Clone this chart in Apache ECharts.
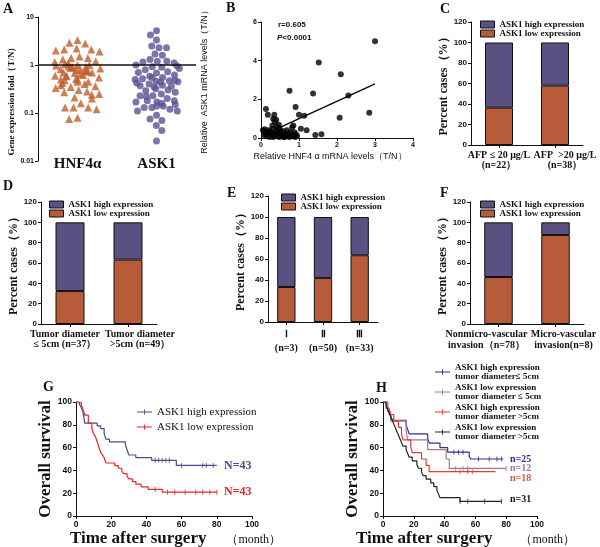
<!DOCTYPE html>
<html><head><meta charset="utf-8">
<script src="https://cdn.jsdelivr.net/npm/echarts@6/dist/echarts.min.js"></script>
<style>html,body{margin:0;padding:0;background:#fff}#c{width:600px;height:547px}</style>
</head><body><div id="c"></div>
<script>
// ---------- Data ----------
// Panel A: gene expression fold (T/N)
const aCategories = ['HNF4α', 'ASK1'];
const aHnf4 = [3.3,2.9,2.8,2.2,2.1,2.1,2.0,1.9,1.5,1.4,1.4,1.3,1.2,1.15,1.1,1.05,1.0,1.0,0.98,0.95,0.92,0.9,0.9,0.88,0.85,0.82,0.8,0.8,0.78,0.75,0.72,0.7,0.7,0.68,0.65,0.62,0.6,0.6,0.58,0.55,0.52,0.5,0.5,0.48,0.45,0.45,0.42,0.4,0.38,0.36,0.35,0.33,0.3,0.28,0.27,0.25,0.24,0.21,0.2,0.16,0.13,0.13,0.13,0.12,0.08,0.075];
const aAsk1 = [5.2,4.2,3.3,2.5,2.3,2.3,1.7,1.6,1.3,1.2,1.2,1.15,1.1,1.0,0.95,0.92,0.9,0.85,0.8,0.72,0.7,0.68,0.62,0.58,0.55,0.55,0.52,0.5,0.48,0.47,0.46,0.45,0.44,0.42,0.4,0.38,0.37,0.36,0.35,0.32,0.3,0.29,0.27,0.25,0.23,0.23,0.22,0.2,0.18,0.18,0.17,0.17,0.16,0.15,0.14,0.14,0.13,0.13,0.12,0.11,0.11,0.09,0.075,0.07,0.055,0.043,0.026];
const aLogTicks = ['0.01','0.1','1','10'];

// Panel B: correlation
const bHnf4 = [3.0,1.52,2.1,0.75,1.37,2.3,0.91,0.13,0.18,0.35,1.0,1.14,0.32,2.07,2.85,0.47,0.85,1.05,1.2,1.43,1.59,
  0.05,0.1,0.12,0.15,0.2,0.22,0.25,0.28,0.3,0.32,0.35,0.38,0.4,0.42,0.45,0.48,0.5,0.52,0.55,0.58,0.6,0.62,0.65,0.68,0.7,0.72,0.75,0.78,0.8,0.82,0.85,0.88,0.9,0.92,0.95,0.18,0.08,0.36,0.4,0.3,0.6,0.45];
const bAsk1 = [5.0,3.9,3.3,2.45,2.3,2.2,1.6,1.5,1.2,1.2,1.2,1.15,1.0,1.05,1.3,0.68,0.65,0.48,0.4,0.15,0.2,
  0.4,0.45,0.2,0.1,0.4,0.05,0.3,0.15,0.45,0.05,0.25,0.1,0.35,0.6,0.2,0.05,0.45,0.3,0.1,0.35,0.2,0.05,0.15,0.4,0.1,0.25,0.05,0.3,0.15,0.55,0.1,0.3,0.05,0.2,0.1,0.3,0.15,0.85,0.95,0.65,0.05,0.5];
const bFitX = [0.5, 3.0];
const bFitY = [0.55, 2.8];

// Panels C-F: percent cases
const cCats = ['AFP ≤ 20 μg/L\n(n=22）', 'AFP  >20 μg/L\n(n=38）'];
const cLow = [36.4, 57.9];
const cHigh = [63.6, 42.1];
const dCats = ['Tumor diameter\n≤ 5cm (n=37）', 'Tumor diameter\n>5cm (n=49）'];
const dLow = [32.4, 63.3];
const dHigh = [67.6, 36.7];
const eCats = ['Ⅰ\n(n=3)', 'Ⅱ\n(n=50)', 'Ⅲ\n(n=33)'];
const eLow = [33.3, 42.0, 63.6];
const eHigh = [66.7, 58.0, 36.4];
const fCats = ['Nonmicro-vascular\ninvasion（n=78）', 'Micro-vascular\ninvasion(n=8)'];
const fLow = [46.2, 87.5];
const fHigh = [53.8, 12.5];

// Panel G: Kaplan-Meier
const gHighT = [0,2,3,4,5,12,14,16,17,19,28,29,30,34,43,57,80];
const gHighS = [100,97.7,95.3,90.7,81.4,79.1,76.7,72.1,67.4,65.1,62.8,58.1,53.5,51.2,48.8,44.4,44.4];
const gHighCensT = [45,47,49,51,53,60,72,74,78];
const gHighCensS = [48.8,48.8,48.8,48.8,48.8,44.4,44.4,44.4,44.4];
const gLowT = [0,3,4,5,7,9,10,11,12,13,14,15,16,17,22,24,26,27,29,30,32,34,37,41,49,80];
const gLowS = [100,97.7,93,88.4,81.4,76.7,72.1,69.8,65.1,60.5,55.8,53.5,51.2,46.5,44.2,41.9,39.5,37.2,34.9,32.6,30.2,27.9,25.6,23.3,20.9,20.9];
const gLowCensT = [45,52,56,62,68,72,76,80];
const gLowCensS = [23.3,20.9,20.9,20.9,20.9,20.9,20.9,20.9];

// Panel H: Kaplan-Meier by tumor diameter
const h1T = [0,3,4,5,6,15,16,17,29,30,37,42,56,57,78];
const h1S = [100,96,92,88,84,80,76,72,68,64,60,56,52,50,50];
const h1CensT = [46,49,52,62,69,74,77];
const h1CensS = [56,56,56,50,50,50,50];
const h2T = [0,3,5,15,16,29,41,43,80];
const h2S = [100,91.7,83.3,75,66.7,58.3,50,41.7,41.7];
const h2CensT = [47,52,55,80];
const h2CensS = [41.7,41.7,41.7,41.7];
const h3T = [0,2,4,7,10,12,13,18,19,25,28,30,73];
const h3S = [100,94.4,88.9,83.3,77.8,72.2,66.7,61.1,55.6,50,44.4,38.9,38.9];
const h3CensT = [50,55,58];
const h3CensS = [38.9,38.9,38.9];
const h4T = [0,2,3,4,5,6,7,8,9,10,11,12,13,15,16,17,19,22,23,25,26,28,31,33,35,36,37,50,77];
const h4S = [100,96.8,93.5,90.3,87.1,83.9,80.6,77.4,74.2,71.0,67.7,64.5,61.3,58.1,54.8,51.6,48.4,45.2,41.9,38.7,35.5,32.3,29.0,25.8,22.6,19.4,16.1,12.9,12.9];
const h4CensT = [50,55,66,77];
const h4CensS = [12.9,12.9,12.9,12.9];

// ---------- Styles ----------
const PURPLE = '#5A5081', ORANGE = '#B85B3A';
const TRI = '#C0602E', DOT = '#5A5494';
const SERIF = '"Liberation Serif", "Times New Roman", serif';
const SANS = '"Liberation Sans", Arial, sans-serif';
const INK = '#111';
const zip = (a, b) => a.map((v, i) => [v, b[i]]);

function tickLabel(extra) { return Object.assign({fontFamily: SANS, fontWeight: 'bold', fontSize: 8, color: INK, margin: 4}, extra || {}); }
const axLine = {show: true, lineStyle: {color: INK, width: 1}};
const axTick = {show: true, length: 3, lineStyle: {color: INK, width: 1}};

function barX(gi, cats, richLabel) {
  return {gridIndex: gi, type: 'category', data: cats, axisLine: axLine, axisTick: {show: true, length: 3, alignWithLabel: true, lineStyle: {color: INK}},
    axisLabel: Object.assign({interval: 0, fontFamily: SERIF, fontWeight: 'bold', fontSize: 10, color: INK, lineHeight: 10, margin: 5}, richLabel || {})};
}
function barY(gi) {
  return {gridIndex: gi, type: 'value', min: 0, max: 120, interval: 20, axisLine: axLine, axisTick: axTick, splitLine: {show: false},
    axisLabel: tickLabel(), name: 'Percent cases（%）', nameLocation: 'middle', nameGap: 17,
    nameTextStyle: {fontFamily: SERIF, fontWeight: 'bold', fontSize: 12, color: INK}};
}
function barSeries(gi, stack, low, high) {
  const base = {type: 'bar', xAxisIndex: gi, yAxisIndex: gi, stack: stack, barWidth: '50%'};
  return [
    Object.assign({}, base, {name: 'ASK1 low expression', data: low, itemStyle: {color: ORANGE, borderColor: INK, borderWidth: 1}}),
    Object.assign({}, base, {name: 'ASK1 high expression', data: high, itemStyle: {color: PURPLE, borderColor: INK, borderWidth: 1}})
  ];
}
function barLegend(left, top) {
  return {left: left, top: top, orient: 'vertical', selectedMode: false, icon: 'rect', itemWidth: 14, itemHeight: 7, itemGap: 0,
    data: ['ASK1 high expression', 'ASK1 low expression'], padding: 0,
    itemStyle: {borderColor: INK, borderWidth: 1},
    textStyle: {fontFamily: SERIF, fontWeight: 'bold', fontSize: 9, lineHeight: 8, color: INK}};
}
function kmSeries(gi, name, color, T, S, cT, cS) {
  return [
    {type: 'line', name: name, xAxisIndex: gi, yAxisIndex: gi, step: 'end', data: zip(T, S), symbol: 'none', color: color,
      lineStyle: {color: color, width: 1.2}},
    {type: 'scatter', name: name + '-c', xAxisIndex: gi, yAxisIndex: gi, data: zip(cT, cS), symbol: 'rect', symbolSize: [1, 5],
      itemStyle: {color: color}}
  ];
}
function kmX(gi, padA, padB) {
  return {gridIndex: gi, type: 'value', min: 0, max: 100, interval: 20, axisLine: axLine, axisTick: axTick, splitLine: {show: false},
    axisLabel: tickLabel({fontSize: 8.5}), name: '{a|Time after surgery}{b|（month）}', nameLocation: 'middle', nameGap: 13,
    nameTextStyle: {rich: {a: {fontFamily: SERIF, fontWeight: 'bold', fontSize: 17, color: INK, padding: [0, 0, 0, padA]},
      b: {fontFamily: SERIF, fontSize: 12, color: INK, padding: [3, 0, 0, padB]}}}};
}
function kmY(gi, gap) {
  return {gridIndex: gi, type: 'value', min: 0, max: 100, interval: 20, axisLine: axLine, axisTick: axTick, splitLine: {show: false},
    axisLabel: tickLabel({fontSize: 8.5}), name: 'Overall survival', nameLocation: 'middle', nameGap: gap,
    nameTextStyle: {fontFamily: SERIF, fontWeight: 'bold', fontSize: 17, color: INK}};
}
const kmIcon = 'path://M0,4.4H20V5.6H0Z M9.4,1.5H10.6V8.5H9.4Z';

const legendNames = {
  'G-high': 'ASK1 high expression', 'G-low': 'ASK1 low expression',
  'H1': 'ASK1 high expression\ntumor diameter≤ 5cm', 'H2': 'ASK1 low expression\ntumor diameter ≤ 5cm',
  'H3': 'ASK1 high expression\ntumor diameter >5cm', 'H4': 'ASK1 low expression\ntumor diameter >5cm'
};

const grids = [
  {left: 38, top: 17, width: 158, height: 144},   // A
  {left: 261, top: 22, width: 152, height: 116},  // B
  {left: 471, top: 22, width: 112, height: 123},  // C
  {left: 41, top: 202, width: 116, height: 122},  // D
  {left: 268, top: 196, width: 110, height: 126}, // E
  {left: 470, top: 202, width: 114, height: 122}, // F
  {left: 76, top: 402, width: 176, height: 114},  // G
  {left: 383, top: 402, width: 154, height: 114}  // H
].map(g => Object.assign({outerBoundsMode: 'none', containLabel: false}, g));

const option = {
  animation: false,
  backgroundColor: '#fff',
  grid: grids,
  xAxis: [
    {gridIndex: 0, type: 'category', data: aCategories, jitter: 46, jitterOverlap: false, jitterMargin: 0.5,
      axisLine: {show: false}, axisTick: {show: false},
      axisLabel: {fontFamily: SERIF, fontWeight: 'bold', fontSize: 15, color: INK, margin: -4}},
    {gridIndex: 1, type: 'value', min: 0, max: 4, interval: 1, axisLine: axLine, axisTick: axTick, splitLine: {show: false},
      axisLabel: tickLabel({fontSize: 7}), name: 'Relative HNF4 α mRNA levels（T/N）', nameLocation: 'middle', nameGap: 14,
      nameTextStyle: {fontFamily: SANS, fontSize: 9, color: INK, padding: [0, 14, 0, 0]}},
    barX(2, cCats, {formatter: (v, i) => i === 0 ? v : '{r|' + v.split('\n').join('}\n{r|') + '}',
      rich: {r: {fontFamily: SERIF, fontWeight: 'bold', fontSize: 10, color: INK, lineHeight: 10, padding: [0, 0, 0, 20]}}}),
    barX(3, dCats, {formatter: (v, i) => (i === 0 ? '{l|' : '{r|') + v.split('\n').join(i === 0 ? '}\n{l|' : '}\n{r|') + '}',
      rich: {l: {fontFamily: SERIF, fontWeight: 'bold', fontSize: 10, color: INK, lineHeight: 10, padding: [0, 10, 0, 0]},
             r: {fontFamily: SERIF, fontWeight: 'bold', fontSize: 10, color: INK, lineHeight: 10, padding: [0, 0, 0, 24]}}}),
    barX(4, eCats, {lineHeight: 14}),
    barX(5, fCats, {formatter: (v, i) => (i === 0 ? '{l|' : '{r|') + v.split('\n').join(i === 0 ? '}\n{l|' : '}\n{r|') + '}',
      rich: {l: {fontFamily: SERIF, fontWeight: 'bold', fontSize: 10, color: INK, lineHeight: 11, padding: [0, 24, 0, 0]},
             r: {fontFamily: SERIF, fontWeight: 'bold', fontSize: 10, color: INK, lineHeight: 11, padding: [0, 0, 0, 16]}}}),
    kmX(6, 23, 20),
    kmX(7, 11, 28)
  ],
  yAxis: [
    {gridIndex: 0, type: 'log', logBase: 10, min: 0.01, max: 10, axisLine: axLine, axisTick: axTick, splitLine: {show: false},
      axisLabel: tickLabel({fontSize: 7, formatter: v => aLogTicks.find(t => Math.abs(parseFloat(t) - v) < 1e-9) || ''}),
      name: 'Gene expression fold（T/N）', nameLocation: 'middle', nameGap: 21,
      nameTextStyle: {fontFamily: SERIF, fontWeight: 'bold', fontSize: 9, color: INK, padding: [0, 20, 0, 0]}},
    {gridIndex: 1, type: 'value', min: 0, max: 6, interval: 2, axisLine: axLine, axisTick: axTick, splitLine: {show: false},
      axisLabel: tickLabel({fontSize: 7}), name: 'Relative  ASK1 mRNA levels（T/N）', nameLocation: 'middle', nameGap: 52,
      nameTextStyle: {fontFamily: SANS, fontSize: 9, color: INK}},
    barY(2), barY(3), barY(4), barY(5),
    kmY(6, 18), kmY(7, 12)
  ],
  legend: [
    barLegend(480, 20), barLegend(49, 200), barLegend(281, 193), barLegend(480, 200),
    {left: 137, top: 406, orient: 'vertical', selectedMode: false, icon: kmIcon, itemWidth: 15, itemHeight: 8, itemGap: 3, padding: 0,
      data: ['G-high', 'G-low'], formatter: n => legendNames[n], itemStyle: {borderWidth: 0},
      textStyle: {fontFamily: SERIF, fontSize: 11, lineHeight: 12, color: INK}},
    {left: 435, top: 363, orient: 'vertical', selectedMode: false, icon: kmIcon, itemWidth: 15, itemHeight: 8, itemGap: 2, padding: 0,
      data: ['H1', 'H2', 'H3', 'H4'], formatter: n => legendNames[n], itemStyle: {borderWidth: 0},
      textStyle: {fontFamily: SERIF, fontWeight: 'bold', fontSize: 9, lineHeight: 9, color: INK}}
  ],
  series: [
    {type: 'scatter', name: 'HNF4α', xAxisIndex: 0, yAxisIndex: 0, data: aHnf4.map(v => [0, v]), symbol: 'triangle', symbolSize: 8,
      itemStyle: {color: TRI},
      markLine: {silent: true, symbol: 'none', label: {show: false}, lineStyle: {color: INK, width: 1.5, type: 'solid'}, data: [{yAxis: 1}]}},
    {type: 'scatter', name: 'ASK1', xAxisIndex: 0, yAxisIndex: 0, data: aAsk1.map(v => [1, v]), symbol: 'circle', symbolSize: 7,
      itemStyle: {color: DOT}},
    {type: 'scatter', name: 'B-points', xAxisIndex: 1, yAxisIndex: 1, data: zip(bHnf4, bAsk1), symbol: 'circle', symbolSize: 6,
      itemStyle: {color: '#000'}},
    {type: 'line', name: 'B-fit', xAxisIndex: 1, yAxisIndex: 1, data: zip(bFitX, bFitY), symbol: 'none', lineStyle: {color: '#000', width: 1.2}},
    ...barSeries(2, 'c', cLow, cHigh),
    ...barSeries(3, 'd', dLow, dHigh),
    ...barSeries(4, 'e', eLow, eHigh),
    ...barSeries(5, 'f', fLow, fHigh),
    ...kmSeries(6, 'G-high', '#4B4A8C', gHighT, gHighS, gHighCensT, gHighCensS),
    ...kmSeries(6, 'G-low', '#E8262A', gLowT, gLowS, gLowCensT, gLowCensS),
    ...kmSeries(7, 'H1', '#2D2D9C', h1T, h1S, h1CensT, h1CensS),
    ...kmSeries(7, 'H2', '#A07A92', h2T, h2S, h2CensT, h2CensS),
    ...kmSeries(7, 'H3', '#E83A30', h3T, h3S, h3CensT, h3CensS),
    ...kmSeries(7, 'H4', '#222222', h4T, h4S, h4CensT, h4CensS)
  ],
  graphic: [
    ...[['A', 3, 2], ['B', 226, 1], ['C', 440, 2], ['D', 3, 179], ['E', 227, 186], ['F', 440, 186], ['G', 43, 380], ['H', 376, 381]]
      .map(([t, x, y]) => ({type: 'text', left: x, top: y, style: {text: t, font: 'bold 14px ' + SERIF, fill: INK}})),
    {type: 'text', left: 278, top: 21, style: {text: 'r=0.605', font: 'bold 8px ' + SANS, fill: INK}},
    {type: 'text', left: 277, top: 34, style: {text: '{i|P}{n|<0.0001}', rich: {
      i: {fontFamily: SANS, fontWeight: 'bold', fontStyle: 'italic', fontSize: 8, fill: INK},
      n: {fontFamily: SANS, fontWeight: 'bold', fontSize: 8, fill: INK}}}},
    {type: 'text', left: 224, top: 460, style: {text: 'N=43', font: 'bold 12px ' + SERIF, fill: '#4B4A8C'}},
    {type: 'text', left: 224, top: 486, style: {text: 'N=43', font: 'bold 12px ' + SERIF, fill: '#E8262A'}},
    {type: 'text', left: 510, top: 454, style: {text: 'n=25', font: 'bold 10px ' + SERIF, fill: '#2D2D9C'}},
    {type: 'text', left: 510, top: 463, style: {text: 'n=12', font: 'bold 10px ' + SERIF, fill: '#A07A92'}},
    {type: 'text', left: 510, top: 473, style: {text: 'n=18', font: 'bold 10px ' + SERIF, fill: '#E0583A'}},
    {type: 'text', left: 510, top: 494, style: {text: 'n=31', font: 'bold 10px ' + SERIF, fill: '#111'}}
  ]
};
const chart = echarts.init(document.getElementById('c'), null, {renderer: 'canvas'});
chart.setOption(option);
</script></body></html>
